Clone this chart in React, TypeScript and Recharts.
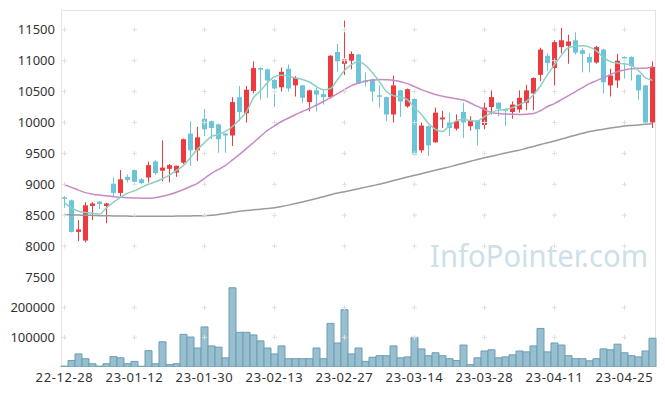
import { ComposedChart, Bar, Line, XAxis, YAxis, ReferenceDot } from "recharts";

const FONT = '"Noto Sans", sans-serif';
const RED = "#ee3a3e";
const BLUE = "#6cc4d8";
const GRID = "#e0e0e0";

// trading days, yy-mm-dd
const dates = [
  "22-12-28", "22-12-29", "23-01-02", "23-01-03", "23-01-04", "23-01-05", "23-01-06", "23-01-09", "23-01-10", "23-01-11",
  "23-01-12", "23-01-13", "23-01-16", "23-01-17", "23-01-18", "23-01-19", "23-01-20", "23-01-25", "23-01-26", "23-01-27",
  "23-01-30", "23-01-31", "23-02-01", "23-02-02", "23-02-03", "23-02-06", "23-02-07", "23-02-08", "23-02-09", "23-02-10",
  "23-02-13", "23-02-14", "23-02-15", "23-02-16", "23-02-17", "23-02-20", "23-02-21", "23-02-22", "23-02-23", "23-02-24",
  "23-02-27", "23-02-28", "23-03-02", "23-03-03", "23-03-06", "23-03-07", "23-03-08", "23-03-09", "23-03-10", "23-03-13",
  "23-03-14", "23-03-15", "23-03-16", "23-03-17", "23-03-20", "23-03-21", "23-03-22", "23-03-23", "23-03-24", "23-03-27",
  "23-03-28", "23-03-29", "23-03-30", "23-03-31", "23-04-03", "23-04-04", "23-04-05", "23-04-06", "23-04-07", "23-04-10",
  "23-04-11", "23-04-12", "23-04-13", "23-04-14", "23-04-17", "23-04-18", "23-04-19", "23-04-20", "23-04-21", "23-04-24",
  "23-04-25", "23-04-26", "23-04-27", "23-04-28", "23-05-02",
];

const opens = [
  8790, 8740, 8230, 8090, 8650, 8720, 8650, 9010, 8860, 9120,
  9230, 9080, 9110, 9370, 9220, 9250, 9190, 9350, 9820, 9550,
  10060, 10020, 9970, 9820, 9790, 10410, 10150, 10510, 10880, 10860,
  10690, 10570, 10870, 10600, 10600, 10330, 10520, 10460, 10410, 11140,
  10950, 11000, 11100, 10680, 10700, 10440, 10410, 10130, 10520, 10260,
  10380, 9550, 9940, 9680, 10050, 10000, 9900, 10170, 9940, 10030,
  9960, 10250, 10320, 10220, 10170, 10210, 10320, 10470, 10770, 11080,
  10880, 11220, 11240, 11330, 11170, 11060, 10970, 11180, 10600, 10680,
  11060, 11060, 10770, 10600, 10000,
];
const highs = [
  8810, 8750, 8420, 8710, 8710, 8730, 8700, 9110, 9230, 9160,
  9240, 9100, 9370, 9390, 9710, 9330, 9300, 9740, 10020, 9930,
  10220, 10030, 9980, 9830, 10410, 10590, 10590, 10990, 10890, 10870,
  10700, 10890, 10940, 10750, 10610, 10530, 10570, 10520, 11090, 11270,
  11650, 11150, 11110, 10810, 10710, 10600, 10420, 10760, 10530, 10550,
  10390, 10000, 9950, 10240, 10190, 10160, 10130, 10320, 10100, 10040,
  10320, 10520, 10330, 10230, 10340, 10520, 10610, 10730, 11210, 11120,
  11330, 11530, 11420, 11460, 11200, 11120, 11240, 11190, 10870, 11110,
  11070, 11070, 10780, 10610, 10990,
];
const lows = [
  8620, 8220, 8080, 8060, 8420, 8600, 8370, 8800, 8810, 9030,
  9020, 9000, 9030, 9150, 9050, 9030, 9120, 9330, 9300, 9380,
  9780, 9730, 9510, 9510, 9620, 10020, 10000, 10470, 10370, 10400,
  10250, 10500, 10500, 10420, 10320, 10180, 10180, 10290, 10390, 10820,
  10770, 10860, 10630, 10580, 10340, 10240, 10020, 10000, 10090, 10240,
  9470, 9510, 9460, 9670, 9910, 9780, 9870, 9750, 9870, 9630,
  9890, 10130, 10100, 9940, 10060, 10160, 10200, 10200, 10670, 10830,
  10600, 11120, 10950, 11100, 10810, 10810, 10950, 10470, 10420, 10560,
  10710, 10680, 10370, 9990, 9910,
];
const closes = [
  8770, 8230, 8270, 8660, 8690, 8680, 8690, 8860, 9080, 9070,
  9040, 9020, 9310, 9180, 9270, 9310, 9300, 9730, 9550, 9760,
  9890, 9910, 9730, 9790, 10330, 10170, 10530, 10880, 10860, 10680,
  10550, 10820, 10550, 10720, 10400, 10520, 10450, 10410, 11080, 10990,
  11020, 11110, 10640, 10650, 10500, 10420, 10130, 10600, 10340, 10540,
  9480, 9950, 9630, 10160, 10080, 9910, 10020, 10000, 10030, 9890,
  10240, 10410, 10220, 10190, 10290, 10400, 10520, 10720, 11180, 10960,
  11300, 11330, 11310, 11130, 11110, 10970, 11220, 10650, 10760, 11000,
  11040, 10910, 10520, 10000, 10900,
];

// moving averages
const ma5 = [
  8700, 8620, 8565, 8545, 8530, 8520, 8620, 8710, 8790, 8855,
  8895, 8950, 9000, 9040, 9090, 9150, 9225, 9305, 9435, 9565,
  9675, 9775, 9805, 9855, 9935, 10050, 10175, 10400, 10515, 10645,
  10740, 10765, 10750, 10720, 10695, 10655, 10580, 10530, 10550, 10695,
  10840, 10935, 10985, 10925, 10805, 10660, 10500, 10435, 10410, 10365,
  10240, 10130, 9985, 9890, 9855, 9950, 10030, 10050, 10030, 10025,
  10095, 10160, 10200, 10210, 10240, 10290, 10345, 10450, 10595, 10775,
  10935, 11090, 11210, 11235, 11240, 11220, 11160, 11050, 10985, 10960,
  10950, 10925, 10840, 10720, 10685,
];
const ma20 = [
  8995, 8950, 8905, 8865, 8840, 8825, 8815, 8800, 8790, 8782,
  8778, 8775, 8774, 8785, 8806, 8835, 8871, 8915, 8965, 9016,
  9095, 9177, 9240, 9306, 9395, 9484, 9580, 9677, 9775, 9871,
  9945, 10016, 10072, 10129, 10178, 10226, 10283, 10339, 10403, 10468,
  10532, 10597, 10635, 10669, 10684, 10694, 10692, 10685, 10660, 10629,
  10580, 10532, 10490, 10452, 10425, 10403, 10383, 10363, 10315, 10260,
  10210, 10161, 10145, 10137, 10132, 10129, 10135, 10145, 10190, 10258,
  10306, 10371, 10435, 10500, 10565, 10629, 10678, 10726, 10775, 10823,
  10848, 10871, 10876, 10879, 10903,
];
const ma60 = [
  8508, 8505, 8502, 8499, 8496, 8492, 8490, 8488, 8486, 8485,
  8484, 8484, 8484, 8484, 8484, 8484, 8485, 8486, 8488, 8490,
  8492, 8500, 8512, 8528, 8546, 8565, 8576, 8587, 8598, 8610,
  8621, 8640, 8663, 8688, 8715, 8742, 8770, 8800, 8830, 8858,
  8879, 8903, 8928, 8954, 8978, 9000, 9030, 9060, 9090, 9118,
  9145, 9172, 9200, 9228, 9255, 9282, 9312, 9342, 9372, 9402,
  9430, 9455, 9480, 9505, 9530, 9553, 9583, 9613, 9643, 9673,
  9702, 9733, 9764, 9795, 9825, 9855, 9873, 9891, 9909, 9926,
  9943, 9952, 9961, 9970, 9979,
];

const volumes = [
  3000, 22000, 44000, 28000, 11000, 3000, 11000, 35000, 31000, 11000,
  19000, 2500, 55000, 11000, 85000, 8000, 11000, 110000, 101000, 64000,
  135000, 71000, 67000, 31000, 267000, 117000, 117000, 108000, 88000, 64000,
  44000, 71000, 28000, 28000, 28000, 28000, 64000, 28000, 147000, 81000,
  193000, 44000, 64000, 19000, 33000, 38000, 38000, 71000, 31000, 34000,
  100000, 61000, 38000, 48000, 38000, 28000, 22000, 74000, 8000, 31000,
  54000, 58000, 31000, 34000, 41000, 54000, 51000, 71000, 130000, 51000,
  81000, 74000, 38000, 28000, 28000, 21000, 28000, 61000, 58000, 77000,
  48000, 38000, 34000, 54000, 97000,
];

const priceTicks = [7500, 8000, 8500, 9000, 9500, 10000, 10500, 11000, 11500];
const volumeTicks = [100000, 200000];
const dateTicks = dates.filter((_, i) => i % 10 === 0);

const rows = dates.map((date, i) => ({
  date,
  open: opens[i],
  high: highs[i],
  low: lows[i],
  close: closes[i],
  range: [lows[i], highs[i]],
  ma5: ma5[i],
  ma20: ma20[i],
  ma60: ma60[i],
  vol: volumes[i],
}));

const tickStyle = { fontSize: 13, fill: "#333", fontFamily: FONT };

function Candle(props: any) {
  const { x, y, width, height, payload } = props;
  if (!payload) return null;
  const { open, close, high, low } = payload;
  const color = close >= open ? RED : BLUE;
  const k = height / (high - low);
  const yOpen = y + (high - open) * k;
  const yClose = y + (high - close) * k;
  const top = Math.min(yOpen, yClose);
  const bodyH = Math.max(Math.abs(yOpen - yClose), 1.5);
  const cx = x + width / 2;
  return (
    <g>
      <line x1={cx} x2={cx} y1={y} y2={y + height} stroke={color} strokeWidth={1} />
      <rect x={x} y={top} width={width} height={bodyH} fill={color} />
    </g>
  );
}

function Cross(props: any) {
  const { cx, cy } = props;
  if (cx == null || cy == null) return null;
  return <path d={`M${cx - 2.5},${cy}h5M${cx},${cy - 2.5}v5`} stroke={GRID} strokeWidth={1} />;
}

function crosses(values: number[], prefix: string) {
  const out: any[] = [];
  for (const d of dateTicks) {
    for (const v of values) {
      out.push(
        <ReferenceDot key={`${prefix}-${d}-${v}`} x={d} y={v} r={0} ifOverflow="visible" shape={Cross} />
      );
    }
  }
  return out;
}

export default function App() {
  return (
    <div style={{ position: "absolute", left: 0, top: 0, width: 665, height: 396, background: "#fff" }}>
      {/* plot frame */}
      <div
        style={{
          position: "absolute",
          left: 61,
          top: 10,
          width: 595,
          height: 357,
          boxSizing: "border-box",
          borderTop: "1px solid #e3e3e3",
          borderLeft: "1px solid #e3e3e3",
          borderRight: "1px solid #e3e3e3",
        }}
      />
      <svg width={665} height={396} style={{ position: "absolute", left: 0, top: 0 }}>
        <text
          x={430}
          y={267}
          fontSize={30}
          fontFamily={FONT}
          fill="#cddfe9"
          textLength={218}
          lengthAdjust="spacingAndGlyphs"
        >
          InfoPointer.com
        </text>
      </svg>

      {/* price panel */}
      <div style={{ position: "absolute", left: 0, top: 0 }}>
        <ComposedChart
          width={665}
          height={290}
          data={rows}
          margin={{ top: 10, right: 9, bottom: 13, left: 0 }}
          barCategoryGap={1}
        >
          <XAxis
            dataKey="date"
            height={0}
            tick={false}
            tickLine={false}
            axisLine={{ stroke: "#e4e4e4", strokeWidth: 2 }}
            ticks={dateTicks}
          />
          <YAxis
            width={61}
            domain={[7500, 11820]}
            ticks={priceTicks}
            allowDataOverflow
            tickLine={false}
            axisLine={false}
            tickSize={6}
            tickMargin={0}
            tick={tickStyle}
          />
          {crosses(priceTicks.slice(1), "p")}
          <Bar dataKey="range" barSize={5} shape={Candle} isAnimationActive={false} />
          <Line type="monotone" dataKey="ma60" stroke="#9a9a9a" strokeWidth={1.5} dot={false} isAnimationActive={false} />
          <Line type="monotone" dataKey="ma20" stroke="#c98ac4" strokeWidth={1.5} dot={false} isAnimationActive={false} />
          <Line type="monotone" dataKey="ma5" stroke="#8ecfc3" strokeWidth={1.5} dot={false} isAnimationActive={false} />
        </ComposedChart>
      </div>

      {/* volume panel */}
      <div style={{ position: "absolute", left: 0, top: 278 }}>
        <ComposedChart
          width={665}
          height={118}
          data={rows}
          margin={{ top: 0, right: 9, bottom: 0, left: 0 }}
          barCategoryGap={0}
        >
          <XAxis
            dataKey="date"
            height={29}
            interval={9}
            tickLine={false}
            axisLine={false}
            tickSize={6}
            tickMargin={0}
            tick={{ ...tickStyle, letterSpacing: 0.6 }}
          />
          <YAxis
            width={61}
            domain={[0, 300000]}
            ticks={volumeTicks}
            allowDataOverflow
            tickLine={false}
            axisLine={false}
            tickSize={6}
            tickMargin={0}
            tick={tickStyle}
          />
          {crosses(volumeTicks, "v")}
          <Bar dataKey="vol" fill="#97bfcf" stroke="#6c9db3" strokeWidth={1} isAnimationActive={false} />
        </ComposedChart>
      </div>
    </div>
  );
}
